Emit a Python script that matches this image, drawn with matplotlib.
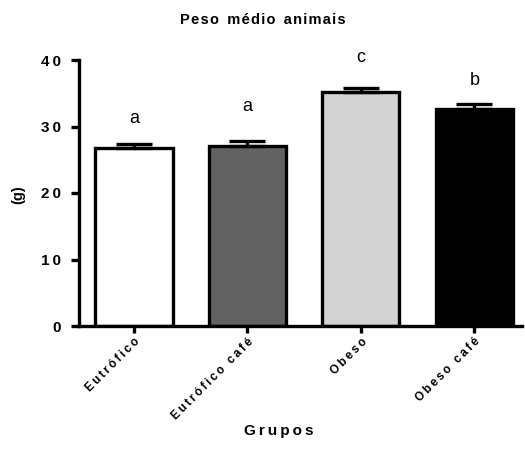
import matplotlib
matplotlib.use("Agg")
import matplotlib.pyplot as plt
import numpy as np

groups = ["Eutrófico", "Eutrófico café", "Obeso", "Obeso café"]
means = [26.8, 27.1, 35.2, 32.7]
sem = [0.55, 0.75, 0.6, 0.65]
letters = ["a", "a", "c", "b"]
colors = ["#ffffff", "#626262", "#d3d3d3", "#000000"]
yticks = [0, 10, 20, 30, 40]

# baseline height (in g) of each significance letter
letter_y = [30.6, 32.4, 39.7, 36.2]

FAM = ["Liberation Sans", "DejaVu Sans"]
THIN = "\u2009"
HAIR = "\u200a"


def spaced(s, sep=THIN):
    return sep.join(list(s))


fig = plt.figure(figsize=(5.25, 4.66), dpi=100)
ax = fig.add_axes([79 / 525, 1 - 326 / 466, (522 - 79) / 525, (326 - 60) / 466])

x = np.arange(len(groups))
lw = 2.4
ax.bar(x, means, width=0.68, color=colors, edgecolor="black", linewidth=lw, zorder=2)
ax.errorbar(x, means, yerr=[np.zeros(len(sem)), sem], fmt="none", ecolor="black",
            elinewidth=lw, capsize=13, capthick=lw, zorder=3)

for xi, ly, t in zip(x, letter_y, letters):
    ax.text(xi, ly, t, ha="center", va="baseline", fontsize=13, family=FAM)

ax.set_xlim(-0.485, 3.42)
ax.set_ylim(0, 40)
ax.set_yticks(yticks)
ax.set_yticklabels([spaced(str(v)) for v in yticks], fontsize=11,
                   fontweight="bold", family=FAM)
ax.set_xticks(x)
ax.set_xticklabels([spaced(g) for g in groups], rotation=45, ha="right", rotation_mode="anchor",
                   fontsize=8.5, fontweight="bold", family=FAM)

for side in ("top", "right"):
    ax.spines[side].set_visible(False)
for side in ("left", "bottom"):
    ax.spines[side].set_linewidth(lw)
ax.tick_params(axis="y", length=6, width=lw, pad=7)
ax.tick_params(axis="x", length=5, width=lw, pad=2)

fig.text(18 / 525, 1 - 195 / 466, "(g)", rotation=90, ha="center", va="center",
         fontsize=10.5, fontweight="bold", family=FAM)
title = "  ".join(spaced(w, HAIR) for w in ["Peso", "médio", "animais"])
fig.text(263 / 525, 1 - 20 / 466, title, ha="center", va="center",
         fontsize=10.5, fontweight="bold", family=FAM)
fig.text(279 / 525, 1 - 431 / 466, spaced("Grupos"), ha="center", va="center",
         fontsize=11, fontweight="bold", family=FAM)

fig.savefig("out.png", dpi=100)
